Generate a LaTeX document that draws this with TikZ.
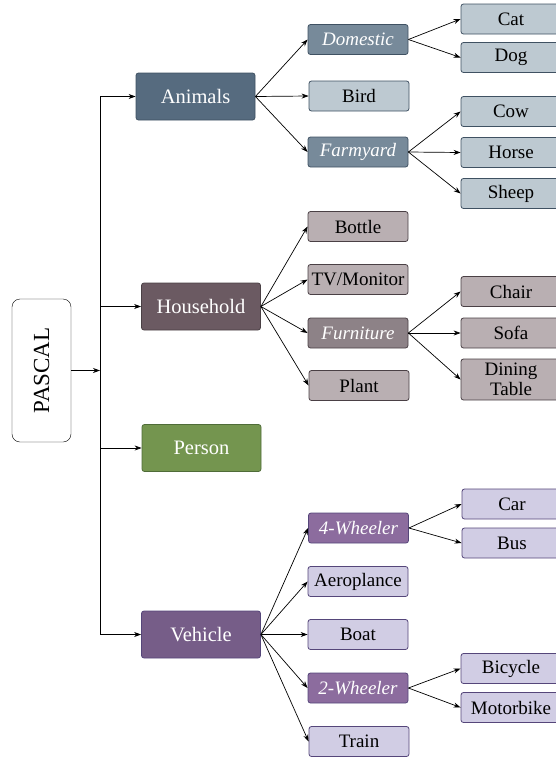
\documentclass[tikz,border=0pt]{standalone}
\usepackage{fontspec}
\setmainfont{Liberation Serif}
\usetikzlibrary{arrows.meta}
\definecolor{animdark}{HTML}{566B7F}
\definecolor{animmid}{HTML}{778A9A}
\definecolor{animlight}{HTML}{BDC9D1}
\definecolor{animline}{HTML}{3F5162}
\definecolor{housedark}{HTML}{6B5A62}
\definecolor{housemid}{HTML}{8D8287}
\definecolor{houselight}{HTML}{B9AFB2}
\definecolor{houseline}{HTML}{4A4045}
\definecolor{persongreen}{HTML}{74954F}
\definecolor{personline}{HTML}{4F6C38}
\definecolor{vehdark}{HTML}{765D88}
\definecolor{vehmid}{HTML}{8C6C9E}
\definecolor{vehlight}{HTML}{D1CDE4}
\definecolor{vehline}{HTML}{55467A}
\tikzset{
  rootbox/.style={rectangle,draw,rounded corners=8pt,fill=white,minimum width=59pt,minimum height=143pt,font=\rmfamily\fontsize{23}{25}\selectfont},
  catbox/.style={rectangle,draw,rounded corners=2.5pt,line width=0.8pt,minimum width=119pt,minimum height=47pt,text=white,font=\rmfamily\fontsize{20.5}{24}\selectfont},
  leafbox/.style={rectangle,draw,rounded corners=2.5pt,line width=0.8pt,minimum width=100pt,minimum height=30pt,inner sep=1pt,align=center,font=\rmfamily\fontsize{19}{20.5}\selectfont},
  groupbox/.style={leafbox,text=white,font=\rmfamily\fontsize{19}{20.5}\selectfont\itshape},
  anim/.style={fill=animlight,draw=animline},
  house/.style={fill=houselight,draw=houseline},
  veh/.style={fill=vehlight,draw=vehline},
  line/.style={-{Stealth[length=7pt,width=5pt]},line width=0.7pt}
}

\begin{document}
\begin{tikzpicture}[x=1pt,y=-1pt]
\useasboundingbox (0,0) rectangle (556,758);
% root and top level
\node[rootbox] (pascal) at (41.5,370.5) {\rotatebox{90}{PASCAL}};
\coordinate (trunk) at (100,370.5);
\node[catbox, fill=animdark, draw=animline] (animals) at (195.5,96.5) {Animals};
\node[catbox, fill=housedark, draw=houseline] (household) at (201,306.5) {Household};
\node[catbox, fill=persongreen, draw=personline] (person) at (201.5,448) {Person};
\node[catbox, fill=vehdark, draw=vehline] (vehicle) at (201,634.5) {Vehicle};

% animals
\node[groupbox, fill=animmid, draw=animline] (domestic) at (358,39.5) {Domestic};
\node[leafbox, anim] (bird) at (359,96) {Bird};
\node[groupbox, fill=animmid, draw=animline] (farmyard) at (358,152) {Farmyard};
\node[leafbox, anim] (cat) at (511,19) {Cat};
\node[leafbox, anim] (dog) at (511,57.5) {Dog};
\node[leafbox, anim] (cow) at (511,111.5) {Cow};
\node[leafbox, anim] (horse) at (511,152.5) {Horse};
\node[leafbox, anim] (sheep) at (511,193.5) {Sheep};

% household
\node[leafbox, house] (bottle) at (358,226.5) {Bottle};
\node[leafbox, house] (tv) at (358,279.5) {TV/Monitor};
\node[groupbox, fill=housemid, draw=houseline] (furniture) at (358,333) {Furniture};
\node[leafbox, house] (plant) at (359,385.5) {Plant};
\node[leafbox, house] (chair) at (511,291.5) {Chair};
\node[leafbox, house] (sofa) at (511,333) {Sofa};
\node[leafbox, house, minimum height=41pt] (table) at (511,379.5) {Dining\\Table};

% vehicle
\node[groupbox, fill=vehmid, draw=vehline] (fourw) at (358.5,528) {4-Wheeler};
\node[leafbox, veh] (plane) at (358,581.5) {Aeroplance};
\node[leafbox, veh] (boat) at (358,634.5) {Boat};
\node[groupbox, fill=vehmid, draw=vehline] (twow) at (358,688) {2-Wheeler};
\node[leafbox, veh] (train) at (359,741.5) {Train};
\node[leafbox, veh] (car) at (512,504) {Car};
\node[leafbox, veh] (bus) at (512,543) {Bus};
\node[leafbox, veh] (bicycle) at (511,668.5) {Bicycle};
\node[leafbox, veh] (motorbike) at (511,707.5) {Motorbike};

% connectors
\draw[line] (pascal) -- (trunk);
\draw[line width=0.7pt] (trunk |- animals) -- (trunk |- vehicle);
\foreach \c in {animals,household,person,vehicle}
  \draw[line] (trunk |- \c) -- (\c);
\foreach \c in {domestic,bird,farmyard}
  \draw[line] (animals.east) -- (\c.west);
\foreach \c in {cat,dog}
  \draw[line] (domestic.east) -- (\c.west);
\foreach \c in {cow,horse,sheep}
  \draw[line] (farmyard.east) -- (\c.west);
\foreach \c in {bottle,tv,furniture,plant}
  \draw[line] (household.east) -- (\c.west);
\foreach \c in {chair,sofa,table}
  \draw[line] (furniture.east) -- (\c.west);
\foreach \c in {fourw,plane,boat,twow,train}
  \draw[line] (vehicle.east) -- (\c.west);
\foreach \c in {car,bus}
  \draw[line] (fourw.east) -- (\c.west);
\foreach \c in {bicycle,motorbike}
  \draw[line] (twow.east) -- (\c.west);
\end{tikzpicture}
\end{document}
